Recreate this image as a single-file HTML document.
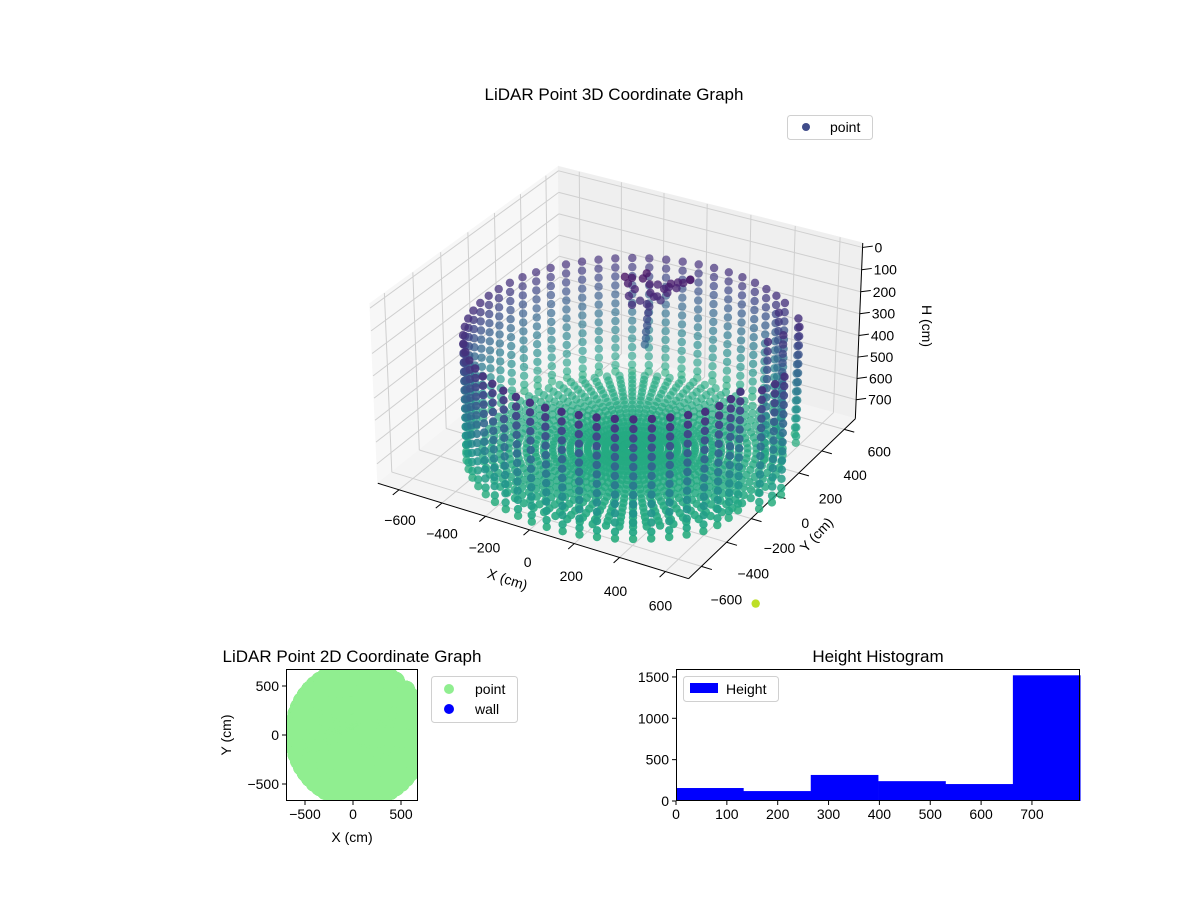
<!DOCTYPE html>
<html><head><meta charset="utf-8"><title>LiDAR</title>
<style>
html,body{margin:0;padding:0;background:#fff;}
svg{display:block;font-family:"Liberation Sans","DejaVu Sans",sans-serif;}
</style></head>
<body>
<svg id="fig" width="1200" height="900" viewBox="0 0 1200 900" xmlns="http://www.w3.org/2000/svg">
<rect width="1200" height="900" fill="#fff"/>
<text x="614" y="100" font-size="17" text-anchor="middle">LiDAR Point 3D Coordinate Graph</text>
<g id="g3d"></g>
<g>
<rect x="787.5" y="115.5" width="85" height="24" rx="3" fill="#fff" stroke="#d0d0d0"/>
<circle cx="806" cy="127" r="4" fill="#404c8a"/>
<text x="830" y="132" font-size="14">point</text>
</g>
<text font-size="14" text-anchor="middle" transform="translate(506,584) rotate(18)">X (cm)</text>
<text font-size="14" text-anchor="middle" transform="translate(820,538) rotate(-47)">Y (cm)</text>
<text font-size="14" text-anchor="middle" transform="translate(922,326) rotate(90)">H (cm)</text>

<text x="352" y="662" font-size="17" text-anchor="middle">LiDAR Point 2D Coordinate Graph</text>
<g id="g2d"></g>
<g>
<rect x="431.5" y="676.5" width="86" height="46" rx="3" fill="#fff" stroke="#d0d0d0"/>
<circle cx="449" cy="689" r="5" fill="#90ee90"/>
<text x="475" y="694" font-size="14">point</text>
<circle cx="449" cy="709" r="5" fill="#0000ff"/>
<text x="475" y="714" font-size="14">wall</text>
</g>
<text x="352" y="842" font-size="14" text-anchor="middle">X (cm)</text>
<text font-size="14" text-anchor="middle" transform="translate(231,735) rotate(-90)">Y (cm)</text>

<text x="878" y="662" font-size="17" text-anchor="middle">Height Histogram</text>
<g id="ghist"></g>
<g>
<rect x="683.5" y="676.5" width="95" height="25" rx="3" fill="#fff" stroke="#d0d0d0"/>
<rect x="690" y="683" width="28" height="10" fill="#0000ff"/>
<text x="726" y="694" font-size="14">Height</text>
</g>
</svg>
<script>
// ---------- data ----------
const wallAngles = [-180,-174,-168,-162,-156,-150,-144,-138,-132,-126,-120,-114,-108,-102,-96,-90,-84,-78,-72,-66,-60,-54,-48,-42,-36,-30,-24,-18,-12,-6,0,24,30,36,42,48,54,60,66,72,78,84,90,96,102,108,114,120,126,132,138,144,150,156,162,168,174];
const wallRadius = [665,665,665,665,665,665,665,665,665,665,665,665,665,665,665,665,665,665,665,665,665,665,665,665,665,650,630,610,660,670,670,530,590,660,670,610,665,665,665,665,665,665,665,665,665,665,665,665,665,665,665,665,665,665,665,665,665];
const wallHeights = [250,292,334,376,418,460,502,544,586,628,670,712,754,785];
const floorAngles = [0,5,10,15,20,25,30,35,40,45,50,55,60,65,70,75,80,85,90,95,100,105,110,115,120,125,130,135,140,145,150,155,160,165,170,175,180,185,190,195,200,205,210,215,220,225,230,235,240,245,250,255,260,265,270,275,280,285,290,295,300,305,310,315,320,325,330,335,340,345,350,355];
const floorRadii = [40,75,110,145,180,215,250,285,320,355,390,425,460,495,530,565,600];
const floorHeight = [770];
const clusterX = [-130,-110,-90,-70,-50,-30,-10,10,30,-100,-80,-60,-40,-20,0,20,50,70,90,-120,-70,-30,10,40,80,-40,-45,-50,-50,-55,-55,-60];
const clusterY = [260,250,270,300,320,290,310,330,350,240,230,260,280,300,320,340,360,380,400,300,330,350,370,390,420,300,300,300,300,300,300,300];
const clusterH = [150,170,200,160,190,210,230,200,180,220,250,240,260,230,250,220,200,180,170,170,150,200,210,190,180,280,310,340,370,400,430,460];
const outlierX = [420], outlierY = [400], outlierH = [1620];

const histCounts = [157,120,315,240,205,1520];
const histEdges = [0,132.5,265,397.5,530,662.5,795];
const histXTicks = [0,100,200,300,400,500,600,700];
const histYTicks = [0,500,1000,1500];
const xy3Ticks = [-600,-400,-200,0,200,400,600];
const hTicks = [0,100,200,300,400,500,600,700];
const ticks2d = [-500,0,500];

const NS = "http://www.w3.org/2000/svg";
function mk(tag, attrs, parent){const e=document.createElementNS(NS,tag);for(const k in attrs)e.setAttribute(k,attrs[k]);parent.appendChild(e);return e;}

// ---------- projection (3D) ----------
function P(x,y,h){
  const X=x/700, Y=y/700, Z=0.6*(385-h)/405;
  const r=0.866*X+0.5*Y, u=-0.25*X+0.433*Y+0.866*Z, d=0.433*X-0.75*Y+0.5*Z;
  const f=19/(19-d);
  return [620.5+177.5*f*r, 363-171*f*u, d];
}
const stops=[[68,1,84],[72,36,117],[65,68,135],[53,95,141],[42,120,142],[33,145,140],[34,168,132],[68,191,112],[122,209,81],[189,223,38],[253,231,37]];
function viridis(t){t=Math.max(0,Math.min(1,t));const s=t*10,i=Math.min(9,Math.floor(s)),f=s-i;const a=stops[i],b=stops[i+1];return `rgb(${Math.round(a[0]+(b[0]-a[0])*f)},${Math.round(a[1]+(b[1]-a[1])*f)},${Math.round(a[2]+(b[2]-a[2])*f)})`;}

const CX=50, CY=10;
const pts=[];
wallAngles.forEach((a,i)=>{const R=wallRadius[i];wallHeights.forEach(h=>{pts.push([CX+R*Math.cos(a*Math.PI/180),CY+R*Math.sin(a*Math.PI/180),h,0]);});});
floorAngles.forEach(a=>{floorRadii.forEach(R=>{pts.push([CX+R*Math.cos(a*Math.PI/180),CY+R*Math.sin(a*Math.PI/180),floorHeight[0],0]);});});
clusterX.forEach((x,i)=>pts.push([x,clusterY[i],clusterH[i],0]));
outlierX.forEach((x,i)=>pts.push([x,outlierY[i],outlierH[i],1]));

const g3=document.getElementById('g3d');
function poly(arr,fill,name){const s=arr.map(p=>{const q=P(p[0],p[1],p[2]);return q[0].toFixed(1)+','+q[1].toFixed(1);}).join(' ');const e=mk('polygon',{points:s,fill:fill,stroke:fill},g3);}
function line(a,b,stroke,w,name){const p=P(a[0],a[1],a[2]),q=P(b[0],b[1],b[2]);const e=mk('line',{x1:p[0],y1:p[1],x2:q[0],y2:q[1],stroke:stroke,'stroke-width':w},g3);}
const L=-700,Rr=700,HT=-20,HB=790;
poly([[L,L,HT],[L,Rr,HT],[L,Rr,HB],[L,L,HB]],'#f7f7f7','pane-x');
poly([[L,Rr,HT],[Rr,Rr,HT],[Rr,Rr,HB],[L,Rr,HB]],'#efefef','pane-y');
poly([[L,L,HB],[L,Rr,HB],[Rr,Rr,HB],[Rr,L,HB]],'#f4f4f4','pane-floor');
const gc='#cfcfcf';
xy3Ticks.forEach(v=>{
  line([v,L,HB],[v,Rr,HB],gc,1,'grid-x-floor');line([v,Rr,HB],[v,Rr,HT],gc,1,'grid-x-wall');
  line([L,v,HB],[Rr,v,HB],gc,1,'grid-y-floor');line([L,v,HB],[L,v,HT],gc,1,'grid-y-wall');
});
hTicks.forEach(h=>{line([L,L,h],[L,Rr,h],gc,1,'grid-h-left');line([L,Rr,h],[Rr,Rr,h],gc,1,'grid-h-right');});
line([L,L,HB],[Rr,L,HB],'#000',1,'x-axis-line');
line([Rr,L,HB],[Rr,Rr,HB],'#000',1,'y-axis-line');
line([Rr,Rr,HT],[Rr,Rr,HB],'#000',1,'h-axis-line');
xy3Ticks.forEach(v=>{
  line([v,L,HB],[v,L-45,HB],'#000',1,'x-tick');
  const p=P(v,L,HB);const t=(v+600)/1200;
  const tx=mk('text',{x:p[0]+(1-6*t),y:p[1]+35+4*t,'font-size':14,'text-anchor':'middle'},g3);tx.textContent=(v<0?'\u2212'+(-v):v);
  
  line([Rr,v,HB],[Rr+45,v,HB],'#000',1,'y-tick');
  const q=P(Rr,v,HB);
  const ty=mk('text',{x:q[0]+25+10*t,y:q[1]+38-11*t,'font-size':14,'text-anchor':'middle'},g3);ty.textContent=(v<0?'\u2212'+(-v):v);
  
});
hTicks.forEach(h=>{
  line([Rr,Rr,h],[Rr+30,Rr+30,h],'#000',1,'h-tick');
  const p=P(Rr,Rr,h);
  const tz=mk('text',{x:p[0]+12,y:p[1]+5,'font-size':14},g3);tz.textContent=h;
  
});
const proj=pts.map(p=>{const q=P(p[0],p[1],p[2]);return {sx:q[0],sy:q[1],d:q[2],h:p[2],o:p[3]};});
proj.sort((a,b)=>a.d-b.d);
const dmin=proj[0].d,dmax=proj[proj.length-1].d;
proj.forEach(p=>{
  const nrm=(p.d-dmin)/(dmax-dmin||1);
  const op=p.o?1:(0.6+0.4*nrm);
  const c=mk('circle',{cx:p.sx.toFixed(1),cy:p.sy.toFixed(1),r:4.2,fill:viridis(Math.min(0.9,(p.h-100)/1100)),'fill-opacity':op.toFixed(2)},g3);
  
  
});

// ---------- 2D scatter ----------
const g2=document.getElementById('g2d');
const ax2={l:286,r:418,t:669,b:801};
const sx2=v=>353+v*0.096, sy2=v=>735-v*0.098;
const clip=mk('clipPath',{id:'clip2'},g2);
mk('rect',{x:ax2.l,y:ax2.t,width:ax2.r-ax2.l,height:ax2.b-ax2.t},clip);
const gp=mk('g',{'clip-path':'url(#clip2)'},g2);

pts.forEach(p=>{
  const c=mk('circle',{cx:sx2(p[0]).toFixed(1),cy:sy2(p[1]).toFixed(1),r:9.5,fill:'#90ee90'},gp);
  
  
});
const fr=mk('rect',{x:ax2.l+0.5,y:ax2.t+0.5,width:ax2.r-ax2.l-1,height:ax2.b-ax2.t-1,fill:'none',stroke:'#000'},g2);

ticks2d.forEach(v=>{
  const x=sx2(v),y=sy2(v);
  const a=mk('line',{x1:x,y1:ax2.b,x2:x,y2:ax2.b+4,stroke:'#000'},g2);
  const t=mk('text',{x:x,y:ax2.b+18,'font-size':14,'text-anchor':'middle'},g2);t.textContent=(v<0?'\u2212'+(-v):v);
  const b=mk('line',{x1:ax2.l-4,y1:y,x2:ax2.l,y2:y,stroke:'#000'},g2);
  const u=mk('text',{x:ax2.l-7,y:y+5,'font-size':14,'text-anchor':'end'},g2);u.textContent=(v<0?'\u2212'+(-v):v);
});

// ---------- histogram ----------
const gh=document.getElementById('ghist');
const axh={l:676,r:1080,t:669,b:801};
const hx=v=>axh.l+v*0.5085, hy=v=>axh.b-v*0.0827;
histCounts.forEach((c,i)=>{
  const r=mk('rect',{x:hx(histEdges[i]),y:hy(c),width:hx(histEdges[i+1])-hx(histEdges[i])+0.3,height:axh.b-hy(c),fill:'#0000ff'},gh);
  
  
});
const frh=mk('rect',{x:axh.l+0.5,y:axh.t+0.5,width:axh.r-axh.l-1,height:axh.b-axh.t-1,fill:'none',stroke:'#000'},gh);

histXTicks.forEach(v=>{
  const x=hx(v);
  const a=mk('line',{x1:x,y1:axh.b,x2:x,y2:axh.b+4,stroke:'#000'},gh);
  const t=mk('text',{x:x,y:axh.b+18,'font-size':14,'text-anchor':'middle'},gh);t.textContent=v;
});
histYTicks.forEach(v=>{
  const y=hy(v);
  const a=mk('line',{x1:axh.l-4,y1:y,x2:axh.l,y2:y,stroke:'#000'},gh);
  const t=mk('text',{x:axh.l-7,y:y+5,'font-size':14,'text-anchor':'end'},gh);t.textContent=v;
});
</script>
</body></html>
